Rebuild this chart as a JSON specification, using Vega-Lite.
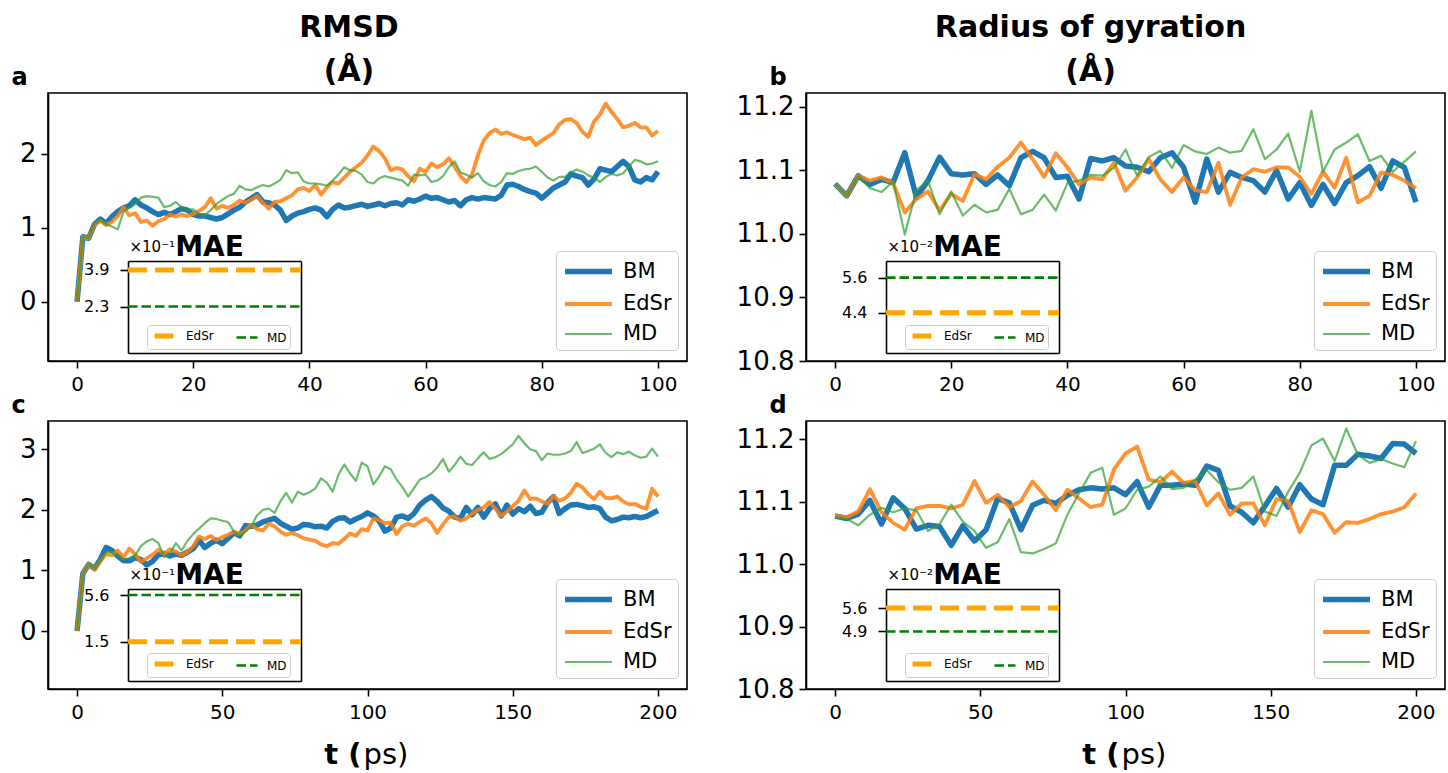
{
"$schema": "https://vega.github.io/schema/vega-lite/v6.json",
"padding": {"left": 10, "top": 12, "right": 5, "bottom": 5},
"background": "white",
"bounds": "flush",
"columns": 2,
"spacing": {"row": 60, "column": 119},
"datasets": {
"rmsd1": [
{"t":0,"BM":0.00,"EdSr":0.00,"MD":0.00},{"t":1,"BM":0.88,"EdSr":0.88,"MD":0.88},{"t":2,"BM":0.86,"EdSr":0.86,"MD":0.86},{"t":3,"BM":1.05,"EdSr":1.04,"MD":1.05},{"t":4,"BM":1.12,"EdSr":1.10,"MD":1.12},{"t":5,"BM":1.06,"EdSr":1.04,"MD":1.05},{"t":6,"BM":1.15,"EdSr":1.08,"MD":1.02},{"t":7,"BM":1.22,"EdSr":1.16,"MD":0.98},{"t":8,"BM":1.27,"EdSr":1.28,"MD":1.22},{"t":9,"BM":1.30,"EdSr":1.17,"MD":1.27},
{"t":10,"BM":1.38,"EdSr":1.20,"MD":1.32},{"t":11,"BM":1.31,"EdSr":1.08,"MD":1.41},{"t":12,"BM":1.27,"EdSr":1.10,"MD":1.43},{"t":13,"BM":1.22,"EdSr":1.03,"MD":1.42},{"t":14,"BM":1.18,"EdSr":1.09,"MD":1.41},{"t":15,"BM":1.21,"EdSr":1.12,"MD":1.28},{"t":16,"BM":1.18,"EdSr":1.18,"MD":1.30},{"t":17,"BM":1.22,"EdSr":1.15,"MD":1.35},{"t":18,"BM":1.26,"EdSr":1.18,"MD":1.28},{"t":19,"BM":1.24,"EdSr":1.16,"MD":1.25},
{"t":20,"BM":1.18,"EdSr":1.19,"MD":1.25},{"t":21,"BM":1.16,"EdSr":1.23,"MD":1.19},{"t":22,"BM":1.16,"EdSr":1.28,"MD":1.17},{"t":23,"BM":1.14,"EdSr":1.40,"MD":1.24},{"t":24,"BM":1.12,"EdSr":1.26,"MD":1.32},{"t":25,"BM":1.14,"EdSr":1.30,"MD":1.38},{"t":26,"BM":1.19,"EdSr":1.27,"MD":1.43},{"t":27,"BM":1.24,"EdSr":1.31,"MD":1.46},{"t":28,"BM":1.28,"EdSr":1.37,"MD":1.57},{"t":29,"BM":1.35,"EdSr":1.34,"MD":1.52},
{"t":30,"BM":1.40,"EdSr":1.38,"MD":1.51},{"t":31,"BM":1.45,"EdSr":1.43,"MD":1.55},{"t":32,"BM":1.35,"EdSr":1.34,"MD":1.58},{"t":33,"BM":1.34,"EdSr":1.26,"MD":1.56},{"t":34,"BM":1.31,"EdSr":1.35,"MD":1.60},{"t":35,"BM":1.24,"EdSr":1.36,"MD":1.65},{"t":36,"BM":1.10,"EdSr":1.40,"MD":1.78},{"t":37,"BM":1.16,"EdSr":1.44,"MD":1.74},{"t":38,"BM":1.20,"EdSr":1.52,"MD":1.75},{"t":39,"BM":1.22,"EdSr":1.54,"MD":1.63},
{"t":40,"BM":1.25,"EdSr":1.50,"MD":1.60},{"t":41,"BM":1.27,"EdSr":1.58,"MD":1.60},{"t":42,"BM":1.24,"EdSr":1.45,"MD":1.59},{"t":43,"BM":1.15,"EdSr":1.55,"MD":1.57},{"t":44,"BM":1.25,"EdSr":1.62,"MD":1.64},{"t":45,"BM":1.31,"EdSr":1.60,"MD":1.72},{"t":46,"BM":1.27,"EdSr":1.68,"MD":1.82},{"t":47,"BM":1.28,"EdSr":1.76,"MD":1.78},{"t":48,"BM":1.30,"EdSr":1.82,"MD":1.77},{"t":49,"BM":1.32,"EdSr":1.88,"MD":1.72},
{"t":50,"BM":1.29,"EdSr":1.98,"MD":1.62},{"t":51,"BM":1.31,"EdSr":2.10,"MD":1.60},{"t":52,"BM":1.33,"EdSr":2.04,"MD":1.67},{"t":53,"BM":1.30,"EdSr":1.94,"MD":1.70},{"t":54,"BM":1.33,"EdSr":1.78,"MD":1.68},{"t":55,"BM":1.34,"EdSr":1.81,"MD":1.66},{"t":56,"BM":1.31,"EdSr":1.79,"MD":1.64},{"t":57,"BM":1.38,"EdSr":1.70,"MD":1.57},{"t":58,"BM":1.36,"EdSr":1.63,"MD":1.72},{"t":59,"BM":1.39,"EdSr":1.80,"MD":1.71},
{"t":60,"BM":1.43,"EdSr":1.76,"MD":1.72},{"t":61,"BM":1.40,"EdSr":1.87,"MD":1.62},{"t":62,"BM":1.41,"EdSr":1.82,"MD":1.64},{"t":63,"BM":1.38,"EdSr":1.86,"MD":1.70},{"t":64,"BM":1.35,"EdSr":1.94,"MD":1.82},{"t":65,"BM":1.37,"EdSr":1.83,"MD":1.90},{"t":66,"BM":1.30,"EdSr":1.70,"MD":1.75},{"t":67,"BM":1.38,"EdSr":1.62,"MD":1.72},{"t":68,"BM":1.41,"EdSr":1.72,"MD":1.68},{"t":69,"BM":1.39,"EdSr":1.98,"MD":1.74},
{"t":70,"BM":1.41,"EdSr":2.18,"MD":1.63},{"t":71,"BM":1.40,"EdSr":2.28,"MD":1.58},{"t":72,"BM":1.39,"EdSr":2.33,"MD":1.56},{"t":73,"BM":1.44,"EdSr":2.27,"MD":1.62},{"t":74,"BM":1.58,"EdSr":2.29,"MD":1.74},{"t":75,"BM":1.59,"EdSr":2.26,"MD":1.73},{"t":76,"BM":1.56,"EdSr":2.23,"MD":1.77},{"t":77,"BM":1.52,"EdSr":2.20,"MD":1.79},{"t":78,"BM":1.49,"EdSr":2.22,"MD":1.80},{"t":79,"BM":1.47,"EdSr":2.12,"MD":1.83},
{"t":80,"BM":1.40,"EdSr":2.18,"MD":1.76},{"t":81,"BM":1.47,"EdSr":2.23,"MD":1.68},{"t":82,"BM":1.54,"EdSr":2.28,"MD":1.64},{"t":83,"BM":1.58,"EdSr":2.40,"MD":1.69},{"t":84,"BM":1.62,"EdSr":2.46,"MD":1.69},{"t":85,"BM":1.73,"EdSr":2.47,"MD":1.75},{"t":86,"BM":1.70,"EdSr":2.42,"MD":1.79},{"t":87,"BM":1.68,"EdSr":2.30,"MD":1.76},{"t":88,"BM":1.58,"EdSr":2.23,"MD":1.71},{"t":89,"BM":1.66,"EdSr":2.44,"MD":1.68},
{"t":90,"BM":1.80,"EdSr":2.53,"MD":1.62},{"t":91,"BM":1.78,"EdSr":2.68,"MD":1.69},{"t":92,"BM":1.76,"EdSr":2.57,"MD":1.73},{"t":93,"BM":1.83,"EdSr":2.47,"MD":1.71},{"t":94,"BM":1.90,"EdSr":2.36,"MD":1.74},{"t":95,"BM":1.83,"EdSr":2.38,"MD":1.83},{"t":96,"BM":1.65,"EdSr":2.42,"MD":1.92},{"t":97,"BM":1.62,"EdSr":2.36,"MD":1.90},{"t":98,"BM":1.68,"EdSr":2.36,"MD":1.86},{"t":99,"BM":1.65,"EdSr":2.25,"MD":1.87},
{"t":100,"BM":1.76,"EdSr":2.31,"MD":1.90}
],
"rg1": [
{"t":0,"BM":11.079,"EdSr":11.079,"MD":11.079},{"t":2,"BM":11.060,"EdSr":11.060,"MD":11.060},{"t":4,"BM":11.092,"EdSr":11.092,"MD":11.092},{"t":6,"BM":11.078,"EdSr":11.084,"MD":11.072},{"t":8,"BM":11.086,"EdSr":11.089,"MD":11.066},{"t":10,"BM":11.081,"EdSr":11.080,"MD":11.083},{"t":12,"BM":11.128,"EdSr":11.034,"MD":10.999},{"t":14,"BM":11.058,"EdSr":11.055,"MD":11.069},{"t":16,"BM":11.084,"EdSr":11.067,"MD":11.084},{"t":18,"BM":11.121,"EdSr":11.037,"MD":11.031},
{"t":20,"BM":11.095,"EdSr":11.063,"MD":11.067},{"t":22,"BM":11.093,"EdSr":11.052,"MD":11.029},{"t":24,"BM":11.095,"EdSr":11.094,"MD":11.046},{"t":26,"BM":11.078,"EdSr":11.086,"MD":11.034},{"t":28,"BM":11.093,"EdSr":11.106,"MD":11.038},{"t":30,"BM":11.076,"EdSr":11.120,"MD":11.071},{"t":32,"BM":11.120,"EdSr":11.144,"MD":11.031},{"t":34,"BM":11.130,"EdSr":11.118,"MD":11.038},{"t":36,"BM":11.120,"EdSr":11.090,"MD":11.062},{"t":38,"BM":11.089,"EdSr":11.127,"MD":11.037},
{"t":40,"BM":11.091,"EdSr":11.105,"MD":11.080},{"t":42,"BM":11.055,"EdSr":11.078,"MD":11.084},{"t":44,"BM":11.119,"EdSr":11.089,"MD":11.093},{"t":46,"BM":11.115,"EdSr":11.086,"MD":11.092},{"t":48,"BM":11.120,"EdSr":11.112,"MD":11.104},{"t":50,"BM":11.107,"EdSr":11.068,"MD":11.133},{"t":52,"BM":11.105,"EdSr":11.089,"MD":11.092},{"t":54,"BM":11.098,"EdSr":11.118,"MD":11.121},{"t":56,"BM":11.120,"EdSr":11.086,"MD":11.131},{"t":58,"BM":11.128,"EdSr":11.066,"MD":11.104},
{"t":60,"BM":11.105,"EdSr":11.089,"MD":11.140},{"t":62,"BM":11.050,"EdSr":11.069,"MD":11.130},{"t":64,"BM":11.118,"EdSr":11.066,"MD":11.126},{"t":66,"BM":11.066,"EdSr":11.112,"MD":11.136},{"t":68,"BM":11.097,"EdSr":11.046,"MD":11.128},{"t":70,"BM":11.089,"EdSr":11.089,"MD":11.131},{"t":72,"BM":11.084,"EdSr":11.102,"MD":11.165},{"t":74,"BM":11.066,"EdSr":11.098,"MD":11.118},{"t":76,"BM":11.100,"EdSr":11.105,"MD":11.133},{"t":78,"BM":11.055,"EdSr":11.105,"MD":11.158},
{"t":80,"BM":11.081,"EdSr":11.090,"MD":11.098},{"t":82,"BM":11.045,"EdSr":11.063,"MD":11.194},{"t":84,"BM":11.078,"EdSr":11.098,"MD":11.098},{"t":86,"BM":11.048,"EdSr":11.073,"MD":11.133},{"t":88,"BM":11.081,"EdSr":11.120,"MD":11.144},{"t":90,"BM":11.092,"EdSr":11.050,"MD":11.157},{"t":92,"BM":11.106,"EdSr":11.060,"MD":11.115},{"t":94,"BM":11.072,"EdSr":11.097,"MD":11.123},{"t":96,"BM":11.115,"EdSr":11.093,"MD":11.098},{"t":98,"BM":11.105,"EdSr":11.084,"MD":11.114},
{"t":100,"BM":11.050,"EdSr":11.072,"MD":11.130}
],
"rmsd2": [
{"t":0,"BM":0.00,"EdSr":0.00,"MD":0.00},{"t":2,"BM":0.95,"EdSr":0.95,"MD":0.95},{"t":4,"BM":1.10,"EdSr":1.10,"MD":1.10},{"t":6,"BM":1.03,"EdSr":1.02,"MD":1.03},{"t":8,"BM":1.18,"EdSr":1.15,"MD":1.16},{"t":10,"BM":1.38,"EdSr":1.27,"MD":1.30},{"t":12,"BM":1.33,"EdSr":1.25,"MD":1.31},{"t":14,"BM":1.24,"EdSr":1.33,"MD":1.24},{"t":16,"BM":1.16,"EdSr":1.22,"MD":1.18},{"t":18,"BM":1.16,"EdSr":1.36,"MD":1.20},
{"t":20,"BM":1.21,"EdSr":1.27,"MD":1.25},{"t":22,"BM":1.18,"EdSr":1.14,"MD":1.40},{"t":24,"BM":1.09,"EdSr":1.20,"MD":1.48},{"t":26,"BM":1.15,"EdSr":1.26,"MD":1.52},{"t":28,"BM":1.26,"EdSr":1.34,"MD":1.45},{"t":30,"BM":1.28,"EdSr":1.27,"MD":1.22},{"t":32,"BM":1.24,"EdSr":1.35,"MD":1.28},{"t":34,"BM":1.27,"EdSr":1.31,"MD":1.45},{"t":36,"BM":1.25,"EdSr":1.25,"MD":1.33},{"t":38,"BM":1.30,"EdSr":1.30,"MD":1.49},
{"t":40,"BM":1.36,"EdSr":1.40,"MD":1.60},{"t":42,"BM":1.50,"EdSr":1.56,"MD":1.69},{"t":44,"BM":1.38,"EdSr":1.52,"MD":1.78},{"t":46,"BM":1.45,"EdSr":1.57,"MD":1.86},{"t":48,"BM":1.50,"EdSr":1.50,"MD":1.85},{"t":50,"BM":1.44,"EdSr":1.55,"MD":1.82},{"t":52,"BM":1.53,"EdSr":1.59,"MD":1.80},{"t":54,"BM":1.62,"EdSr":1.64,"MD":1.64},{"t":56,"BM":1.57,"EdSr":1.60,"MD":1.57},{"t":58,"BM":1.74,"EdSr":1.66,"MD":1.64},
{"t":60,"BM":1.73,"EdSr":1.75,"MD":1.73},{"t":62,"BM":1.75,"EdSr":1.68,"MD":1.91},{"t":64,"BM":1.80,"EdSr":1.66,"MD":2.00},{"t":66,"BM":1.83,"EdSr":1.77,"MD":2.02},{"t":68,"BM":1.86,"EdSr":1.73,"MD":1.95},{"t":70,"BM":1.78,"EdSr":1.64,"MD":2.14},{"t":72,"BM":1.73,"EdSr":1.59,"MD":2.28},{"t":74,"BM":1.68,"EdSr":1.62,"MD":2.12},{"t":76,"BM":1.70,"EdSr":1.58,"MD":2.30},{"t":78,"BM":1.76,"EdSr":1.53,"MD":2.25},
{"t":80,"BM":1.75,"EdSr":1.51,"MD":2.29},{"t":82,"BM":1.72,"EdSr":1.49,"MD":2.35},{"t":84,"BM":1.73,"EdSr":1.43,"MD":2.52},{"t":86,"BM":1.70,"EdSr":1.40,"MD":2.45},{"t":88,"BM":1.81,"EdSr":1.45,"MD":2.30},{"t":90,"BM":1.86,"EdSr":1.44,"MD":2.58},{"t":92,"BM":1.87,"EdSr":1.52,"MD":2.75},{"t":94,"BM":1.80,"EdSr":1.61,"MD":2.60},{"t":96,"BM":1.85,"EdSr":1.57,"MD":2.48},{"t":98,"BM":1.89,"EdSr":1.68,"MD":2.78},
{"t":100,"BM":1.95,"EdSr":1.66,"MD":2.72},{"t":102,"BM":1.90,"EdSr":1.86,"MD":2.42},{"t":104,"BM":1.82,"EdSr":1.83,"MD":2.55},{"t":106,"BM":1.65,"EdSr":1.78,"MD":2.72},{"t":108,"BM":1.70,"EdSr":1.79,"MD":2.67},{"t":110,"BM":1.88,"EdSr":1.60,"MD":2.50},{"t":112,"BM":1.90,"EdSr":1.73,"MD":2.38},{"t":114,"BM":1.86,"EdSr":1.77,"MD":2.22},{"t":116,"BM":1.94,"EdSr":1.74,"MD":2.36},{"t":118,"BM":2.08,"EdSr":1.80,"MD":2.50},
{"t":120,"BM":2.16,"EdSr":1.86,"MD":2.54},{"t":122,"BM":2.22,"EdSr":1.78,"MD":2.60},{"t":124,"BM":2.14,"EdSr":1.62,"MD":2.70},{"t":126,"BM":2.03,"EdSr":1.76,"MD":2.84},{"t":128,"BM":1.98,"EdSr":1.88,"MD":2.63},{"t":130,"BM":1.88,"EdSr":1.89,"MD":2.74},{"t":132,"BM":1.86,"EdSr":1.82,"MD":2.88},{"t":134,"BM":2.04,"EdSr":1.86,"MD":2.76},{"t":136,"BM":1.92,"EdSr":1.94,"MD":2.74},{"t":138,"BM":2.04,"EdSr":2.00,"MD":2.85},
{"t":140,"BM":1.88,"EdSr":2.04,"MD":2.95},{"t":142,"BM":2.02,"EdSr":2.13,"MD":2.84},{"t":144,"BM":2.10,"EdSr":2.02,"MD":2.87},{"t":146,"BM":1.90,"EdSr":1.90,"MD":2.92},{"t":148,"BM":2.08,"EdSr":1.97,"MD":3.00},{"t":150,"BM":1.93,"EdSr":2.06,"MD":3.08},{"t":152,"BM":2.02,"EdSr":2.15,"MD":3.22},{"t":154,"BM":1.97,"EdSr":2.32,"MD":3.10},{"t":156,"BM":2.06,"EdSr":2.18,"MD":3.00},{"t":158,"BM":1.94,"EdSr":2.19,"MD":2.97},
{"t":160,"BM":1.96,"EdSr":2.14,"MD":2.82},{"t":162,"BM":2.12,"EdSr":2.10,"MD":2.93},{"t":164,"BM":2.22,"EdSr":2.23,"MD":2.91},{"t":166,"BM":1.94,"EdSr":2.15,"MD":2.91},{"t":168,"BM":2.02,"EdSr":2.19,"MD":2.93},{"t":170,"BM":2.08,"EdSr":2.28,"MD":2.97},{"t":172,"BM":2.09,"EdSr":2.43,"MD":3.12},{"t":174,"BM":2.07,"EdSr":2.37,"MD":2.94},{"t":176,"BM":2.04,"EdSr":2.26,"MD":2.97},{"t":178,"BM":2.05,"EdSr":2.18,"MD":3.01},
{"t":180,"BM":2.02,"EdSr":2.30,"MD":3.08},{"t":182,"BM":1.88,"EdSr":2.20,"MD":2.94},{"t":184,"BM":1.82,"EdSr":2.19,"MD":2.87},{"t":186,"BM":1.84,"EdSr":2.22,"MD":2.95},{"t":188,"BM":1.88,"EdSr":2.14,"MD":2.92},{"t":190,"BM":1.87,"EdSr":2.09,"MD":2.96},{"t":192,"BM":1.89,"EdSr":2.10,"MD":2.90},{"t":194,"BM":1.87,"EdSr":2.05,"MD":2.86},{"t":196,"BM":1.89,"EdSr":2.02,"MD":2.88},{"t":198,"BM":1.94,"EdSr":2.35,"MD":3.01},
{"t":200,"BM":1.99,"EdSr":2.22,"MD":2.88}
],
"rg2": [
{"t":0,"BM":11.077,"EdSr":11.077,"MD":11.075},{"t":4,"BM":11.073,"EdSr":11.075,"MD":11.072},{"t":8,"BM":11.080,"EdSr":11.084,"MD":11.062},{"t":12,"BM":11.102,"EdSr":11.120,"MD":11.079},{"t":16,"BM":11.064,"EdSr":11.083,"MD":11.090},{"t":20,"BM":11.106,"EdSr":11.066,"MD":11.083},{"t":24,"BM":11.089,"EdSr":11.055,"MD":11.089},{"t":28,"BM":11.056,"EdSr":11.089,"MD":11.086},{"t":32,"BM":11.062,"EdSr":11.093,"MD":11.053},{"t":36,"BM":11.060,"EdSr":11.093,"MD":11.064},
{"t":40,"BM":11.030,"EdSr":11.089,"MD":11.095},{"t":44,"BM":11.061,"EdSr":11.095,"MD":11.068},{"t":48,"BM":11.037,"EdSr":11.133,"MD":11.053},{"t":52,"BM":11.055,"EdSr":11.098,"MD":11.026},{"t":56,"BM":11.105,"EdSr":11.111,"MD":11.035},{"t":60,"BM":11.098,"EdSr":11.091,"MD":11.072},{"t":64,"BM":11.055,"EdSr":11.101,"MD":11.019},{"t":68,"BM":11.094,"EdSr":11.132,"MD":11.017},{"t":72,"BM":11.102,"EdSr":11.111,"MD":11.024},{"t":76,"BM":11.097,"EdSr":11.086,"MD":11.033},
{"t":80,"BM":11.110,"EdSr":11.119,"MD":11.079},{"t":84,"BM":11.119,"EdSr":11.105,"MD":11.113},{"t":88,"BM":11.122,"EdSr":11.091,"MD":11.146},{"t":92,"BM":11.120,"EdSr":11.095,"MD":11.154},{"t":96,"BM":11.122,"EdSr":11.151,"MD":11.079},{"t":100,"BM":11.111,"EdSr":11.177,"MD":11.089},{"t":104,"BM":11.132,"EdSr":11.188,"MD":11.119},{"t":108,"BM":11.091,"EdSr":11.135,"MD":11.124},{"t":112,"BM":11.126,"EdSr":11.131,"MD":11.140},{"t":116,"BM":11.126,"EdSr":11.148,"MD":11.120},
{"t":120,"BM":11.128,"EdSr":11.130,"MD":11.122},{"t":124,"BM":11.126,"EdSr":11.133,"MD":11.135},{"t":128,"BM":11.157,"EdSr":11.094,"MD":11.150},{"t":132,"BM":11.150,"EdSr":11.113,"MD":11.131},{"t":136,"BM":11.093,"EdSr":11.079,"MD":11.119},{"t":140,"BM":11.083,"EdSr":11.097,"MD":11.122},{"t":144,"BM":11.066,"EdSr":11.097,"MD":11.140},{"t":148,"BM":11.093,"EdSr":11.062,"MD":11.084},{"t":152,"BM":11.121,"EdSr":11.104,"MD":11.077},{"t":156,"BM":11.091,"EdSr":11.101,"MD":11.116},
{"t":160,"BM":11.127,"EdSr":11.051,"MD":11.146},{"t":164,"BM":11.104,"EdSr":11.086,"MD":11.190},{"t":168,"BM":11.095,"EdSr":11.080,"MD":11.201},{"t":172,"BM":11.158,"EdSr":11.050,"MD":11.165},{"t":176,"BM":11.158,"EdSr":11.067,"MD":11.217},{"t":180,"BM":11.176,"EdSr":11.066,"MD":11.175},{"t":184,"BM":11.173,"EdSr":11.072,"MD":11.162},{"t":188,"BM":11.169,"EdSr":11.080,"MD":11.168},{"t":192,"BM":11.193,"EdSr":11.084,"MD":11.161},{"t":196,"BM":11.192,"EdSr":11.091,"MD":11.155},
{"t":200,"BM":11.177,"EdSr":11.113,"MD":11.197}
]
},
"concat": [
{
"width": 639, "height": 268,
"title": {"text": ["RMSD", "(Å)"], "fontSize": 30, "fontWeight": "bold", "lineHeight": 44, "anchor": "middle", "frame": "bounds", "offset": -22},
"layer": [
{
"data": {"name": "rmsd1"},
"transform": [{"fold": ["BM", "EdSr", "MD"], "as": ["series", "value"]}],
"mark": {"type": "line", "strokeJoin": "round", "strokeCap": "butt"},
"encoding": {
"x": {"field": "t", "type": "quantitative", "scale": {"domain": [-5, 105], "nice": false, "zero": false}, "axis": {"orient": "bottom", "values": [0, 20, 40, 60, 80, 100], "title": null}},
"y": {"field": "value", "type": "quantitative", "scale": {"domain": [-0.8, 2.824], "nice": false, "zero": false}, "axis": {"orient": "left", "values": [0, 1, 2], "labelFontSize": 26, "labelPadding": 5, "title": "a", "titleAngle": 0, "titleAlign": "left", "titleBaseline": "alphabetic", "titleX": -37, "titleY": -9, "titleFontSize": 24, "titleFontWeight": "bold"}},
"color": {"field": "series", "type": "nominal", "scale": {"domain": ["BM", "EdSr", "MD"], "range": ["#1f77b4", "#ff7f0e", "#2ca02c"]}, "legend": {"title": null, "orient": "none", "legendX": 508, "legendY": 158, "direction": "vertical", "symbolType": "M-2,0H2", "symbolSize": 552, "symbolOffset": 12, "labelOffset": 20, "labelFontSize": 21, "labelColor": "black", "padding": 6, "rowPadding": 7, "strokeColor": "#cccccc", "cornerRadius": 4, "fillColor": "#ffffff"}},
"strokeWidth": {"field": "series", "type": "nominal", "scale": {"domain": ["BM", "EdSr", "MD"], "range": [5.5, 2.2, 2.2]}, "legend": {"title": null, "orient": "none", "legendX": 508, "legendY": 158, "direction": "vertical", "symbolType": "M-2,0H2", "symbolSize": 552, "symbolOffset": 12, "labelOffset": 20, "labelFontSize": 21, "labelColor": "black", "padding": 6, "rowPadding": 7, "strokeColor": "#cccccc", "cornerRadius": 4, "fillColor": "#ffffff"}},
"opacity": {"field": "series", "type": "nominal", "scale": {"domain": ["BM", "EdSr", "MD"], "range": [1, 0.7, 0.7]}, "legend": {"title": null, "orient": "none", "legendX": 508, "legendY": 158, "direction": "vertical", "symbolType": "M-2,0H2", "symbolSize": 552, "symbolOffset": 12, "labelOffset": 20, "labelFontSize": 21, "labelColor": "black", "padding": 6, "rowPadding": 7, "strokeColor": "#cccccc", "cornerRadius": 4, "fillColor": "#ffffff"}}
}
},
{
"data": {"values": [{"method": "EdSr", "mae": 3.9}, {"method": "MD", "mae": 2.3}]},
"layer": [
{"mark": {"type": "rule"}, "encoding": {
"x": {"datum": 0, "type": "quantitative", "scale": {"domain": [0, 1], "range": [80, 253], "nice": false, "zero": false}, "axis": {"orient": "bottom", "offset": -8, "ticks": false, "labels": false, "title": null}},
"x2": {"datum": 1},
"y": {"field": "mae", "type": "quantitative", "scale": {"domain": [0.27, 4.29], "range": [260, 168], "nice": false, "zero": false}, "axis": {"orient": "left", "offset": -80, "values": [3.9, 2.3], "format": ".1f", "labelFontSize": 16, "tickSize": 8, "labelPadding": 11, "title": "×10⁻¹", "titleAngle": 0, "titleAlign": "left", "titleBaseline": "alphabetic", "titleX": 1, "titleY": 158, "titleFontSize": 15, "titleFontWeight": "normal"}},
"color": {"field": "method", "type": "nominal", "scale": {"domain": ["EdSr", "MD"], "range": ["#ffa500", "#008000"]}, "legend": {"title": null, "orient": "none", "legendX": 99, "legendY": 232, "direction": "horizontal", "symbolType": "M-2,0H2", "symbolSize": 110, "symbolOffset": 7, "labelOffset": 13, "columnPadding": 17, "labelFontSize": 12, "labelColor": "black", "padding": 3, "strokeColor": "#cccccc", "cornerRadius": 3, "fillColor": "#ffffff"}},
"strokeWidth": {"field": "method", "type": "nominal", "scale": {"domain": ["EdSr", "MD"], "range": [5, 2.6]}, "legend": {"title": null, "orient": "none", "legendX": 99, "legendY": 232, "direction": "horizontal", "symbolType": "M-2,0H2", "symbolSize": 110, "symbolOffset": 7, "labelOffset": 13, "columnPadding": 17, "labelFontSize": 12, "labelColor": "black", "padding": 3, "strokeColor": "#cccccc", "cornerRadius": 3, "fillColor": "#ffffff"}},
"strokeDash": {"field": "method", "type": "nominal", "scale": {"domain": ["EdSr", "MD"], "range": [[19, 8], [9.5, 4]]}, "legend": {"title": null, "orient": "none", "legendX": 99, "legendY": 232, "direction": "horizontal", "symbolType": "M-2,0H2", "symbolSize": 110, "symbolOffset": 7, "labelOffset": 13, "columnPadding": 17, "labelFontSize": 12, "labelColor": "black", "padding": 3, "strokeColor": "#cccccc", "cornerRadius": 3, "fillColor": "#ffffff"}}
}},
{"mark": {"type": "rule", "opacity": 0}, "encoding": {
"x": {"datum": 0, "type": "quantitative", "axis": {"orient": "top", "offset": -168, "ticks": false, "labels": false, "title": "MAE", "titleFontSize": 28, "titleFontWeight": "bold", "titleX": 161, "titleY": -6, "titleBaseline": "alphabetic", "titleAlign": "center", "titleAngle": 0}},
"x2": {"datum": 1},
"y": {"field": "mae", "type": "quantitative", "axis": {"orient": "right", "offset": -386, "ticks": false, "labels": false, "title": null}}
}}
],
"resolve": {"axis": {"x": "independent", "y": "independent"}}
}
],
"resolve": {"scale": {"x": "independent", "y": "independent", "color": "independent", "strokeWidth": "independent", "opacity": "independent", "strokeDash": "independent"}}
},
{
"width": 639, "height": 268,
"title": {"text": ["Radius of gyration", "(Å)"], "fontSize": 30, "fontWeight": "bold", "lineHeight": 44, "anchor": "middle", "frame": "bounds", "offset": -22},
"layer": [
{
"data": {"name": "rg1"},
"transform": [{"fold": ["BM", "EdSr", "MD"], "as": ["series", "value"]}],
"mark": {"type": "line", "strokeJoin": "round", "strokeCap": "butt"},
"encoding": {
"x": {"field": "t", "type": "quantitative", "scale": {"domain": [-5, 105], "nice": false, "zero": false}, "axis": {"orient": "bottom", "values": [0, 20, 40, 60, 80, 100], "title": null}},
"y": {"field": "value", "type": "quantitative", "scale": {"domain": [10.8, 11.222], "nice": false, "zero": false}, "axis": {"orient": "left", "values": [10.8, 10.9, 11.0, 11.1, 11.2], "format": ".1f", "labelFontSize": 26, "labelPadding": 5, "title": "b", "titleAngle": 0, "titleAlign": "left", "titleBaseline": "alphabetic", "titleX": -37, "titleY": -9, "titleFontSize": 24, "titleFontWeight": "bold"}},
"color": {"field": "series", "type": "nominal", "scale": {"domain": ["BM", "EdSr", "MD"], "range": ["#1f77b4", "#ff7f0e", "#2ca02c"]}, "legend": {"title": null, "orient": "none", "legendX": 508, "legendY": 158, "direction": "vertical", "symbolType": "M-2,0H2", "symbolSize": 552, "symbolOffset": 12, "labelOffset": 20, "labelFontSize": 21, "labelColor": "black", "padding": 6, "rowPadding": 7, "strokeColor": "#cccccc", "cornerRadius": 4, "fillColor": "#ffffff"}},
"strokeWidth": {"field": "series", "type": "nominal", "scale": {"domain": ["BM", "EdSr", "MD"], "range": [5.5, 2.2, 2.2]}, "legend": {"title": null, "orient": "none", "legendX": 508, "legendY": 158, "direction": "vertical", "symbolType": "M-2,0H2", "symbolSize": 552, "symbolOffset": 12, "labelOffset": 20, "labelFontSize": 21, "labelColor": "black", "padding": 6, "rowPadding": 7, "strokeColor": "#cccccc", "cornerRadius": 4, "fillColor": "#ffffff"}},
"opacity": {"field": "series", "type": "nominal", "scale": {"domain": ["BM", "EdSr", "MD"], "range": [1, 0.7, 0.7]}, "legend": {"title": null, "orient": "none", "legendX": 508, "legendY": 158, "direction": "vertical", "symbolType": "M-2,0H2", "symbolSize": 552, "symbolOffset": 12, "labelOffset": 20, "labelFontSize": 21, "labelColor": "black", "padding": 6, "rowPadding": 7, "strokeColor": "#cccccc", "cornerRadius": 4, "fillColor": "#ffffff"}}
}
},
{
"data": {"values": [{"method": "EdSr", "mae": 4.4}, {"method": "MD", "mae": 5.6}]},
"layer": [
{"mark": {"type": "rule"}, "encoding": {
"x": {"datum": 0, "type": "quantitative", "scale": {"domain": [0, 1], "range": [80, 253], "nice": false, "zero": false}, "axis": {"orient": "bottom", "offset": -8, "ticks": false, "labels": false, "title": null}},
"x2": {"datum": 1},
"y": {"field": "mae", "type": "quantitative", "scale": {"domain": [3.02, 6.17], "range": [260, 168], "nice": false, "zero": false}, "axis": {"orient": "left", "offset": -80, "values": [4.4, 5.6], "format": ".1f", "labelFontSize": 16, "tickSize": 8, "labelPadding": 11, "title": "×10⁻²", "titleAngle": 0, "titleAlign": "left", "titleBaseline": "alphabetic", "titleX": 1, "titleY": 158, "titleFontSize": 15, "titleFontWeight": "normal"}},
"color": {"field": "method", "type": "nominal", "scale": {"domain": ["EdSr", "MD"], "range": ["#ffa500", "#008000"]}, "legend": {"title": null, "orient": "none", "legendX": 99, "legendY": 232, "direction": "horizontal", "symbolType": "M-2,0H2", "symbolSize": 110, "symbolOffset": 7, "labelOffset": 13, "columnPadding": 17, "labelFontSize": 12, "labelColor": "black", "padding": 3, "strokeColor": "#cccccc", "cornerRadius": 3, "fillColor": "#ffffff"}},
"strokeWidth": {"field": "method", "type": "nominal", "scale": {"domain": ["EdSr", "MD"], "range": [5, 2.6]}, "legend": {"title": null, "orient": "none", "legendX": 99, "legendY": 232, "direction": "horizontal", "symbolType": "M-2,0H2", "symbolSize": 110, "symbolOffset": 7, "labelOffset": 13, "columnPadding": 17, "labelFontSize": 12, "labelColor": "black", "padding": 3, "strokeColor": "#cccccc", "cornerRadius": 3, "fillColor": "#ffffff"}},
"strokeDash": {"field": "method", "type": "nominal", "scale": {"domain": ["EdSr", "MD"], "range": [[19, 8], [9.5, 4]]}, "legend": {"title": null, "orient": "none", "legendX": 99, "legendY": 232, "direction": "horizontal", "symbolType": "M-2,0H2", "symbolSize": 110, "symbolOffset": 7, "labelOffset": 13, "columnPadding": 17, "labelFontSize": 12, "labelColor": "black", "padding": 3, "strokeColor": "#cccccc", "cornerRadius": 3, "fillColor": "#ffffff"}}
}},
{"mark": {"type": "rule", "opacity": 0}, "encoding": {
"x": {"datum": 0, "type": "quantitative", "axis": {"orient": "top", "offset": -168, "ticks": false, "labels": false, "title": "MAE", "titleFontSize": 28, "titleFontWeight": "bold", "titleX": 161, "titleY": -6, "titleBaseline": "alphabetic", "titleAlign": "center", "titleAngle": 0}},
"x2": {"datum": 1},
"y": {"field": "mae", "type": "quantitative", "axis": {"orient": "right", "offset": -386, "ticks": false, "labels": false, "title": null}}
}}
],
"resolve": {"axis": {"x": "independent", "y": "independent"}}
}
],
"resolve": {"scale": {"x": "independent", "y": "independent", "color": "independent", "strokeWidth": "independent", "opacity": "independent", "strokeDash": "independent"}}
},
{
"width": 639, "height": 268,
"layer": [
{
"data": {"name": "rmsd2"},
"transform": [{"fold": ["BM", "EdSr", "MD"], "as": ["series", "value"]}],
"mark": {"type": "line", "strokeJoin": "round", "strokeCap": "butt"},
"encoding": {
"x": {"field": "t", "type": "quantitative", "scale": {"domain": [-10, 210], "nice": false, "zero": false}, "axis": {"orient": "bottom", "values": [0, 50, 100, 150, 200], "title": "t (", "titleFontSize": 29, "titleFontWeight": "bold", "titleAlign": "right", "titleX": 313, "titleY": 74, "titleBaseline": "alphabetic", "titleAngle": 0}},
"y": {"field": "value", "type": "quantitative", "scale": {"domain": [-0.957, 3.467], "nice": false, "zero": false}, "axis": {"orient": "left", "values": [0, 1, 2, 3], "labelFontSize": 26, "labelPadding": 5, "title": "c", "titleAngle": 0, "titleAlign": "left", "titleBaseline": "alphabetic", "titleX": -37, "titleY": -9, "titleFontSize": 24, "titleFontWeight": "bold"}},
"color": {"field": "series", "type": "nominal", "scale": {"domain": ["BM", "EdSr", "MD"], "range": ["#1f77b4", "#ff7f0e", "#2ca02c"]}, "legend": {"title": null, "orient": "none", "legendX": 508, "legendY": 158, "direction": "vertical", "symbolType": "M-2,0H2", "symbolSize": 552, "symbolOffset": 12, "labelOffset": 20, "labelFontSize": 21, "labelColor": "black", "padding": 6, "rowPadding": 7, "strokeColor": "#cccccc", "cornerRadius": 4, "fillColor": "#ffffff"}},
"strokeWidth": {"field": "series", "type": "nominal", "scale": {"domain": ["BM", "EdSr", "MD"], "range": [5.5, 2.2, 2.2]}, "legend": {"title": null, "orient": "none", "legendX": 508, "legendY": 158, "direction": "vertical", "symbolType": "M-2,0H2", "symbolSize": 552, "symbolOffset": 12, "labelOffset": 20, "labelFontSize": 21, "labelColor": "black", "padding": 6, "rowPadding": 7, "strokeColor": "#cccccc", "cornerRadius": 4, "fillColor": "#ffffff"}},
"opacity": {"field": "series", "type": "nominal", "scale": {"domain": ["BM", "EdSr", "MD"], "range": [1, 0.7, 0.7]}, "legend": {"title": null, "orient": "none", "legendX": 508, "legendY": 158, "direction": "vertical", "symbolType": "M-2,0H2", "symbolSize": 552, "symbolOffset": 12, "labelOffset": 20, "labelFontSize": 21, "labelColor": "black", "padding": 6, "rowPadding": 7, "strokeColor": "#cccccc", "cornerRadius": 4, "fillColor": "#ffffff"}}
}
},
{
"data": {"values": [{"method": "EdSr", "mae": 1.5}, {"method": "MD", "mae": 5.6}]},
"layer": [
{"mark": {"type": "rule"}, "encoding": {
"x": {"datum": 0, "type": "quantitative", "scale": {"domain": [0, 1], "range": [80, 253], "nice": false, "zero": false}, "axis": {"orient": "bottom", "offset": -8, "ticks": false, "labels": false, "title": "ps)", "titleFontSize": 29, "titleFontWeight": "normal", "titleAlign": "left", "titleX": 315, "titleY": 82, "titleBaseline": "alphabetic", "titleAngle": 0}},
"x2": {"datum": 1},
"y": {"field": "mae", "type": "quantitative", "scale": {"domain": [-1.95, 6.13], "range": [260, 168], "nice": false, "zero": false}, "axis": {"orient": "left", "offset": -80, "values": [1.5, 5.6], "format": ".1f", "labelFontSize": 16, "tickSize": 8, "labelPadding": 11, "title": "×10⁻¹", "titleAngle": 0, "titleAlign": "left", "titleBaseline": "alphabetic", "titleX": 1, "titleY": 158, "titleFontSize": 15, "titleFontWeight": "normal"}},
"color": {"field": "method", "type": "nominal", "scale": {"domain": ["EdSr", "MD"], "range": ["#ffa500", "#008000"]}, "legend": {"title": null, "orient": "none", "legendX": 99, "legendY": 232, "direction": "horizontal", "symbolType": "M-2,0H2", "symbolSize": 110, "symbolOffset": 7, "labelOffset": 13, "columnPadding": 17, "labelFontSize": 12, "labelColor": "black", "padding": 3, "strokeColor": "#cccccc", "cornerRadius": 3, "fillColor": "#ffffff"}},
"strokeWidth": {"field": "method", "type": "nominal", "scale": {"domain": ["EdSr", "MD"], "range": [5, 2.6]}, "legend": {"title": null, "orient": "none", "legendX": 99, "legendY": 232, "direction": "horizontal", "symbolType": "M-2,0H2", "symbolSize": 110, "symbolOffset": 7, "labelOffset": 13, "columnPadding": 17, "labelFontSize": 12, "labelColor": "black", "padding": 3, "strokeColor": "#cccccc", "cornerRadius": 3, "fillColor": "#ffffff"}},
"strokeDash": {"field": "method", "type": "nominal", "scale": {"domain": ["EdSr", "MD"], "range": [[19, 8], [9.5, 4]]}, "legend": {"title": null, "orient": "none", "legendX": 99, "legendY": 232, "direction": "horizontal", "symbolType": "M-2,0H2", "symbolSize": 110, "symbolOffset": 7, "labelOffset": 13, "columnPadding": 17, "labelFontSize": 12, "labelColor": "black", "padding": 3, "strokeColor": "#cccccc", "cornerRadius": 3, "fillColor": "#ffffff"}}
}},
{"mark": {"type": "rule", "opacity": 0}, "encoding": {
"x": {"datum": 0, "type": "quantitative", "axis": {"orient": "top", "offset": -168, "ticks": false, "labels": false, "title": "MAE", "titleFontSize": 28, "titleFontWeight": "bold", "titleX": 161, "titleY": -6, "titleBaseline": "alphabetic", "titleAlign": "center", "titleAngle": 0}},
"x2": {"datum": 1},
"y": {"field": "mae", "type": "quantitative", "axis": {"orient": "right", "offset": -386, "ticks": false, "labels": false, "title": null}}
}}
],
"resolve": {"axis": {"x": "independent", "y": "independent"}}
}
],
"resolve": {"scale": {"x": "independent", "y": "independent", "color": "independent", "strokeWidth": "independent", "opacity": "independent", "strokeDash": "independent"}}
},
{
"width": 639, "height": 268,
"layer": [
{
"data": {"name": "rg2"},
"transform": [{"fold": ["BM", "EdSr", "MD"], "as": ["series", "value"]}],
"mark": {"type": "line", "strokeJoin": "round", "strokeCap": "butt"},
"encoding": {
"x": {"field": "t", "type": "quantitative", "scale": {"domain": [-10, 210], "nice": false, "zero": false}, "axis": {"orient": "bottom", "values": [0, 50, 100, 150, 200], "title": "t (", "titleFontSize": 29, "titleFontWeight": "bold", "titleAlign": "right", "titleX": 313, "titleY": 74, "titleBaseline": "alphabetic", "titleAngle": 0}},
"y": {"field": "value", "type": "quantitative", "scale": {"domain": [10.8, 11.229], "nice": false, "zero": false}, "axis": {"orient": "left", "values": [10.8, 10.9, 11.0, 11.1, 11.2], "format": ".1f", "labelFontSize": 26, "labelPadding": 5, "title": "d", "titleAngle": 0, "titleAlign": "left", "titleBaseline": "alphabetic", "titleX": -37, "titleY": -9, "titleFontSize": 24, "titleFontWeight": "bold"}},
"color": {"field": "series", "type": "nominal", "scale": {"domain": ["BM", "EdSr", "MD"], "range": ["#1f77b4", "#ff7f0e", "#2ca02c"]}, "legend": {"title": null, "orient": "none", "legendX": 508, "legendY": 158, "direction": "vertical", "symbolType": "M-2,0H2", "symbolSize": 552, "symbolOffset": 12, "labelOffset": 20, "labelFontSize": 21, "labelColor": "black", "padding": 6, "rowPadding": 7, "strokeColor": "#cccccc", "cornerRadius": 4, "fillColor": "#ffffff"}},
"strokeWidth": {"field": "series", "type": "nominal", "scale": {"domain": ["BM", "EdSr", "MD"], "range": [5.5, 2.2, 2.2]}, "legend": {"title": null, "orient": "none", "legendX": 508, "legendY": 158, "direction": "vertical", "symbolType": "M-2,0H2", "symbolSize": 552, "symbolOffset": 12, "labelOffset": 20, "labelFontSize": 21, "labelColor": "black", "padding": 6, "rowPadding": 7, "strokeColor": "#cccccc", "cornerRadius": 4, "fillColor": "#ffffff"}},
"opacity": {"field": "series", "type": "nominal", "scale": {"domain": ["BM", "EdSr", "MD"], "range": [1, 0.7, 0.7]}, "legend": {"title": null, "orient": "none", "legendX": 508, "legendY": 158, "direction": "vertical", "symbolType": "M-2,0H2", "symbolSize": 552, "symbolOffset": 12, "labelOffset": 20, "labelFontSize": 21, "labelColor": "black", "padding": 6, "rowPadding": 7, "strokeColor": "#cccccc", "cornerRadius": 4, "fillColor": "#ffffff"}}
}
},
{
"data": {"values": [{"method": "EdSr", "mae": 5.6}, {"method": "MD", "mae": 4.9}]},
"layer": [
{"mark": {"type": "rule"}, "encoding": {
"x": {"datum": 0, "type": "quantitative", "scale": {"domain": [0, 1], "range": [80, 253], "nice": false, "zero": false}, "axis": {"orient": "bottom", "offset": -8, "ticks": false, "labels": false, "title": "ps)", "titleFontSize": 29, "titleFontWeight": "normal", "titleAlign": "left", "titleX": 315, "titleY": 82, "titleBaseline": "alphabetic", "titleAngle": 0}},
"x2": {"datum": 1},
"y": {"field": "mae", "type": "quantitative", "scale": {"domain": [3.42, 6.17], "range": [260, 168], "nice": false, "zero": false}, "axis": {"orient": "left", "offset": -80, "values": [5.6, 4.9], "format": ".1f", "labelFontSize": 16, "tickSize": 8, "labelPadding": 11, "title": "×10⁻²", "titleAngle": 0, "titleAlign": "left", "titleBaseline": "alphabetic", "titleX": 1, "titleY": 158, "titleFontSize": 15, "titleFontWeight": "normal"}},
"color": {"field": "method", "type": "nominal", "scale": {"domain": ["EdSr", "MD"], "range": ["#ffa500", "#008000"]}, "legend": {"title": null, "orient": "none", "legendX": 99, "legendY": 232, "direction": "horizontal", "symbolType": "M-2,0H2", "symbolSize": 110, "symbolOffset": 7, "labelOffset": 13, "columnPadding": 17, "labelFontSize": 12, "labelColor": "black", "padding": 3, "strokeColor": "#cccccc", "cornerRadius": 3, "fillColor": "#ffffff"}},
"strokeWidth": {"field": "method", "type": "nominal", "scale": {"domain": ["EdSr", "MD"], "range": [5, 2.6]}, "legend": {"title": null, "orient": "none", "legendX": 99, "legendY": 232, "direction": "horizontal", "symbolType": "M-2,0H2", "symbolSize": 110, "symbolOffset": 7, "labelOffset": 13, "columnPadding": 17, "labelFontSize": 12, "labelColor": "black", "padding": 3, "strokeColor": "#cccccc", "cornerRadius": 3, "fillColor": "#ffffff"}},
"strokeDash": {"field": "method", "type": "nominal", "scale": {"domain": ["EdSr", "MD"], "range": [[19, 8], [9.5, 4]]}, "legend": {"title": null, "orient": "none", "legendX": 99, "legendY": 232, "direction": "horizontal", "symbolType": "M-2,0H2", "symbolSize": 110, "symbolOffset": 7, "labelOffset": 13, "columnPadding": 17, "labelFontSize": 12, "labelColor": "black", "padding": 3, "strokeColor": "#cccccc", "cornerRadius": 3, "fillColor": "#ffffff"}}
}},
{"mark": {"type": "rule", "opacity": 0}, "encoding": {
"x": {"datum": 0, "type": "quantitative", "axis": {"orient": "top", "offset": -168, "ticks": false, "labels": false, "title": "MAE", "titleFontSize": 28, "titleFontWeight": "bold", "titleX": 161, "titleY": -6, "titleBaseline": "alphabetic", "titleAlign": "center", "titleAngle": 0}},
"x2": {"datum": 1},
"y": {"field": "mae", "type": "quantitative", "axis": {"orient": "right", "offset": -386, "ticks": false, "labels": false, "title": null}}
}}
],
"resolve": {"axis": {"x": "independent", "y": "independent"}}
}
],
"resolve": {"scale": {"x": "independent", "y": "independent", "color": "independent", "strokeWidth": "independent", "opacity": "independent", "strokeDash": "independent"}}
}
],
"config": {
"font": "DejaVu Sans",
"view": {"stroke": "black", "strokeWidth": 1.6},
"axis": {"grid": false, "domainColor": "black", "domainWidth": 1.6, "tickColor": "black", "tickWidth": 1.6, "tickSize": 7, "labelColor": "black", "labelFont": "DejaVu Sans", "labelFontSize": 20, "labelPadding": 6, "labelFlush": false, "labelOverlap": false, "titleColor": "black", "titleFont": "DejaVu Sans"},
"legend": {"labelFont": "DejaVu Sans"},
"title": {"color": "black", "font": "DejaVu Sans"}
}
}
